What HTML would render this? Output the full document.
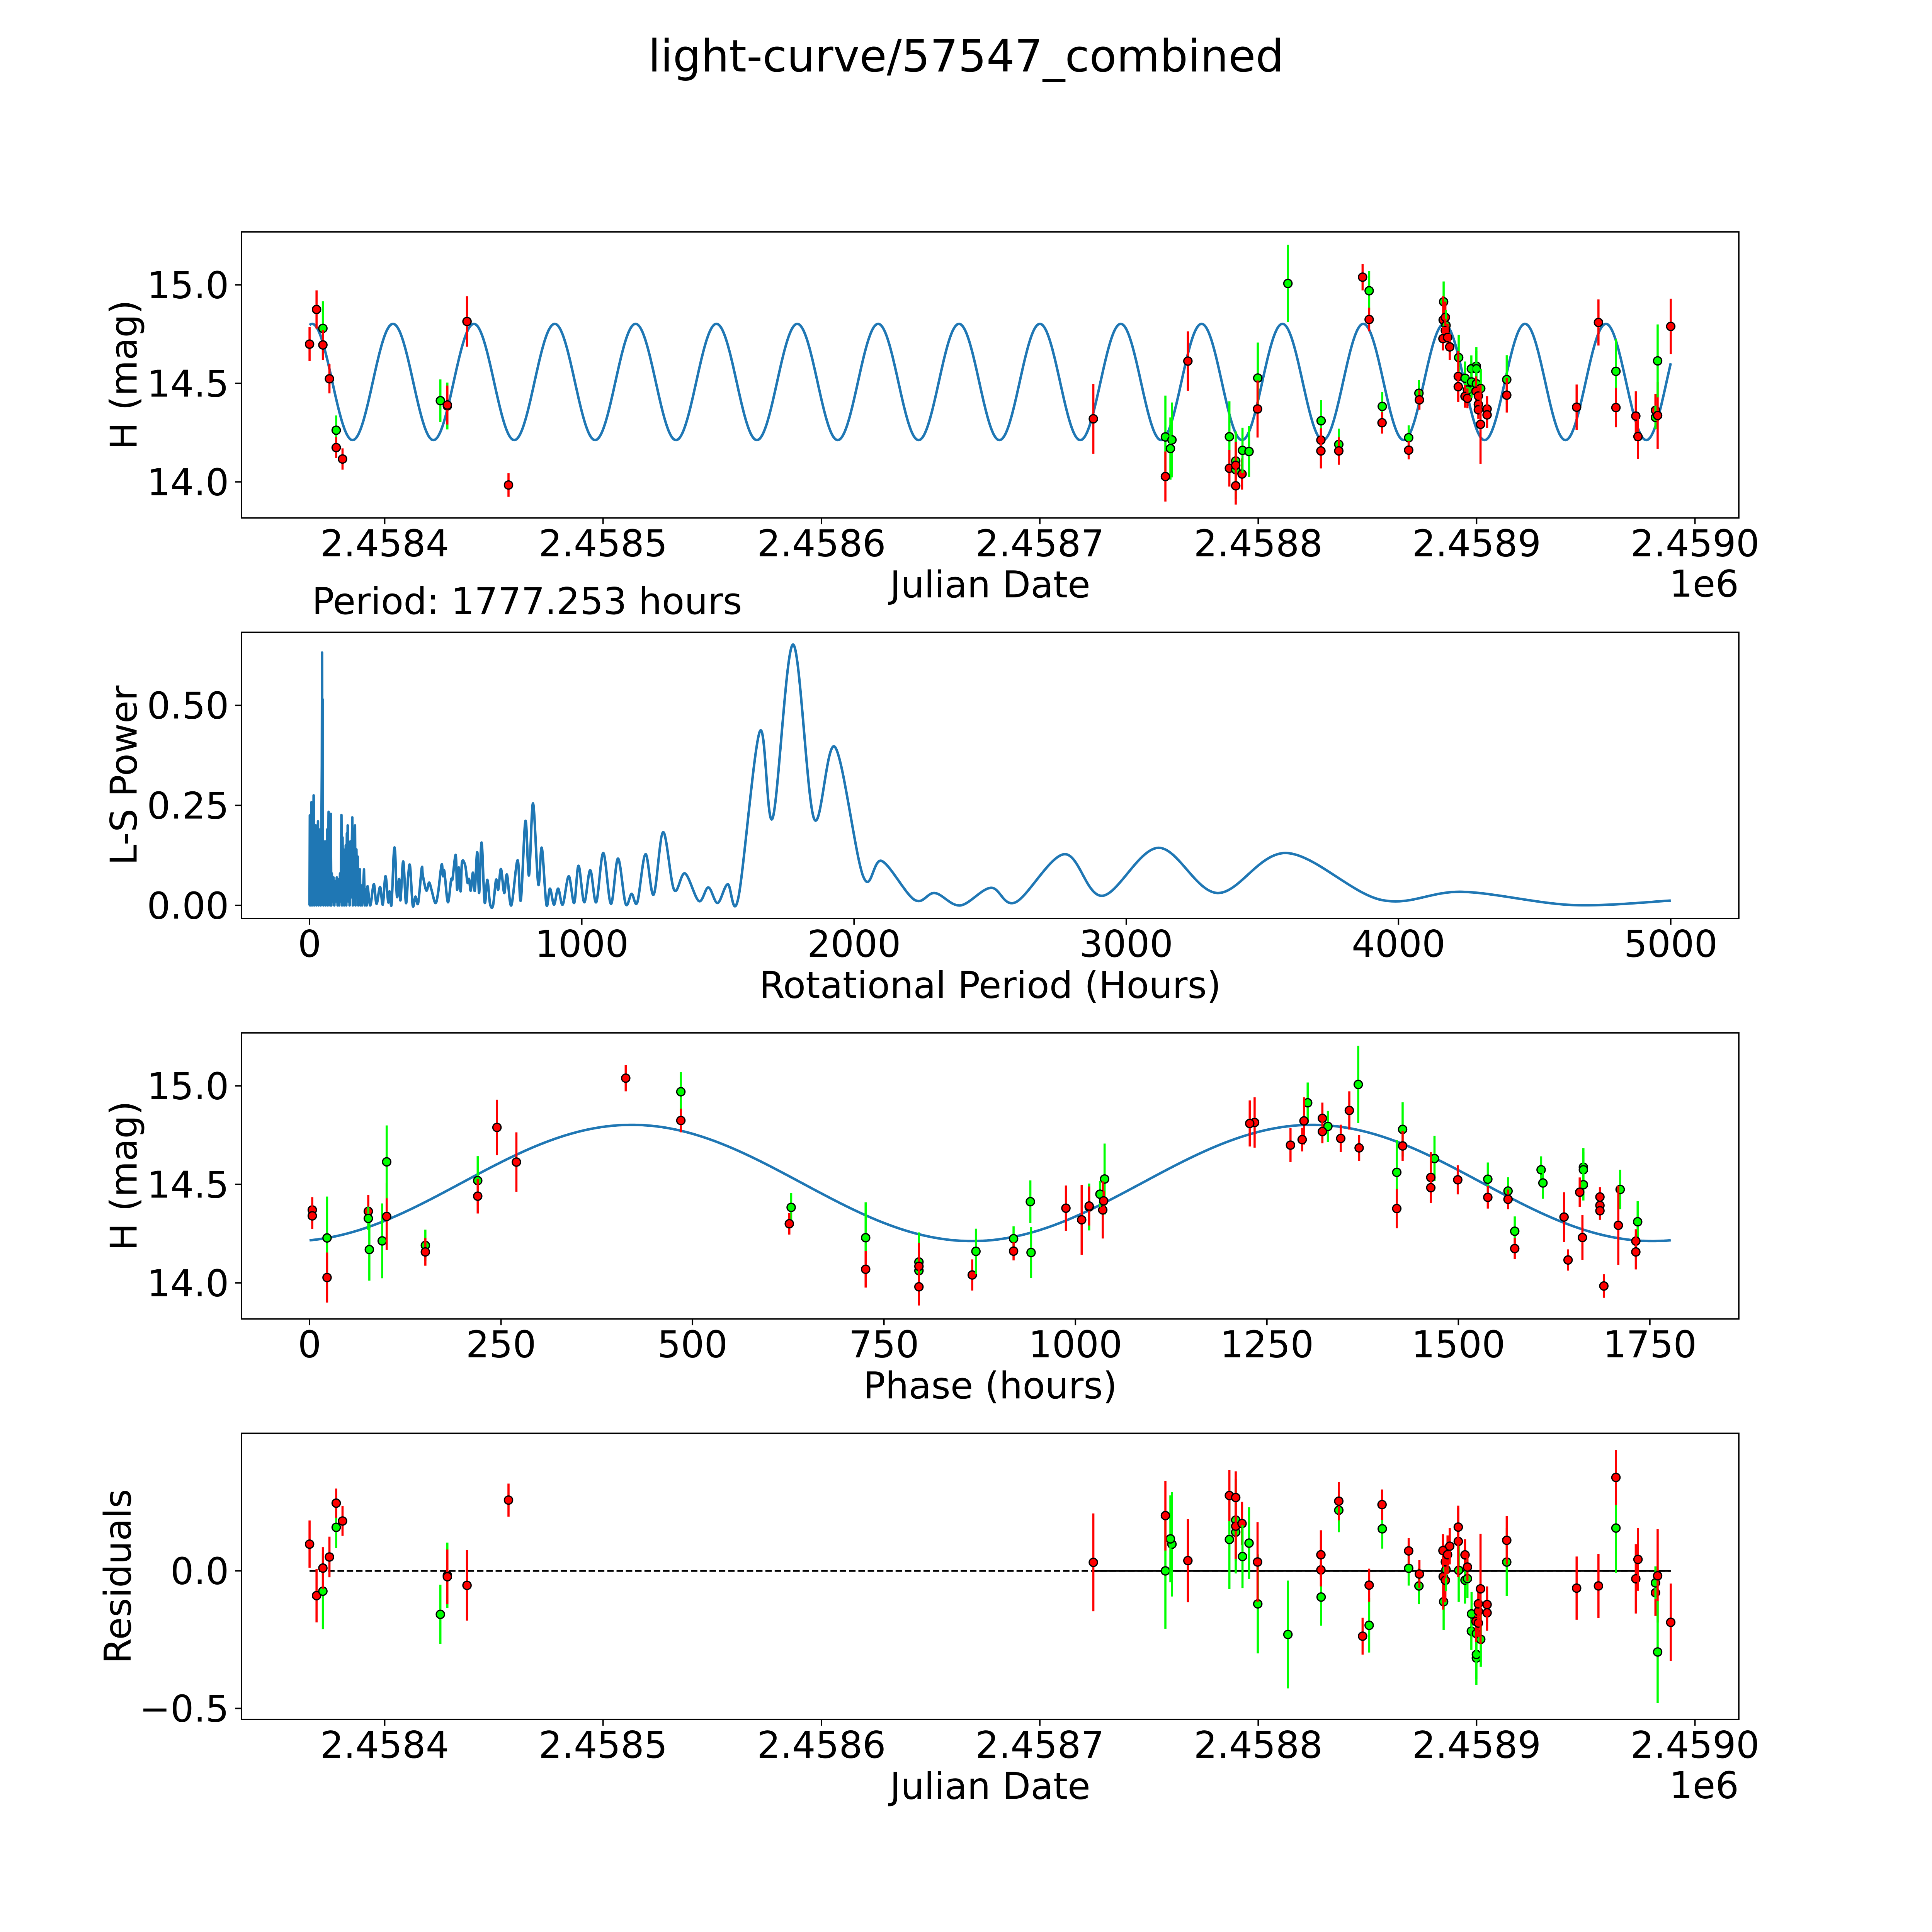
<!DOCTYPE html>
<html><head><meta charset="utf-8"><style>
html,body{margin:0;padding:0;background:#fff;overflow:hidden;width:100%;height:100%}
svg{display:block;width:100vw;height:100vh}
text{font-family:"DejaVu Sans","Liberation Sans",sans-serif;fill:#000}
</style></head><body>
<svg id="fig" xmlns="http://www.w3.org/2000/svg" viewBox="0 0 5400 5400" preserveAspectRatio="none">
<rect x="0" y="0" width="5400" height="5400" fill="#fff"/>
<text x="2700" y="200" font-size="124" text-anchor="middle">light-curve/57547_combined</text>
<text x="872" y="1716" font-size="103">Period: 1777.253 hours</text>
</svg>
<script>
// ---- observation data ----
const jd = [2458365.6,2458368.8,2458371.7,2458371.7,2458374.7,2458377.8,2458377.8,2458380.7,2458425.5,2458428.7,2458428.7,2458437.7,2458456.7,
2458724.5,2458757.5,2458760.5,2458759.8,2458757.5,2458767.8,2458786.8,2458786.8,2458789.7,2458789.7,2458789.7,2458789.7,2458792.6,2458792.8,2458795.8,2458799.8,2458799.7,2458813.6,
2458828.8,2458828.7,2458828.7,2458836.9,2458836.9,2458847.8,2458850.8,2458850.8,2458856.8,2458856.7,2458868.9,2458868.9,2458873.6,2458873.8,
2458884.9,2458884.7,2458885.7,2458886.0,2458885.7,2458884.6,2458886.7,2458887.7,2458891.8,2458891.6,2458891.6,2458894.7,2458895.8,2458894.7,2458895.8,
2458897.6,2458899.9,2458899.9,2458897.7,2458899.9,2458901.9,2458899.7,2458900.8,2458900.8,2458900.8,2458904.8,2458904.8,2458901.8,2458913.8,2458913.8,
2458945.8,2458955.8,2458963.8,2458963.8,2458972.9,2458973.9,2458981.9,2458981.9,2458982.9,2458982.9,2458988.9];
const mag = [14.699,14.875,14.779,14.695,14.523,14.262,14.174,14.116,14.412,14.385,14.390,14.814,13.984,
14.320,14.228,14.213,14.169,14.027,14.613,14.229,14.069,14.106,14.062,14.084,13.980,14.040,14.160,14.154,14.527,14.370,15.007,
14.310,14.212,14.157,14.190,14.157,15.039,14.970,14.824,14.383,14.300,14.224,14.161,14.450,14.416,
14.914,14.822,14.835,14.794,14.768,14.727,14.733,14.685,14.631,14.535,14.483,14.526,14.466,14.434,14.424,
14.574,14.587,14.574,14.507,14.498,14.474,14.460,14.436,14.393,14.366,14.370,14.340,14.292,14.519,14.440,
14.379,14.809,14.561,14.377,14.334,14.230,14.363,14.327,14.337,14.614,14.789];
const magErr = [0.086,0.097,0.138,0.076,0.074,0.075,0.053,0.054,0.108,0.119,0.099,0.128,0.060,
0.178,0.21,0.19,0.158,0.127,0.151,0.18,0.093,0.15,0.15,0.12,0.095,0.079,0.115,0.13,0.18,0.145,0.196,
0.104,0.06,0.089,0.08,0.07,0.067,0.099,0.06,0.072,0.055,0.063,0.047,0.066,0.05,
0.103,0.12,0.08,0.079,0.06,0.06,0.07,0.066,0.115,0.13,0.07,0.085,0.07,0.057,0.05,
0.068,0.097,0.09,0.08,0.08,0.1,0.075,0.05,0.05,0.046,0.065,0.066,0.2,0.124,0.088,
0.115,0.117,0.163,0.10,0.126,0.114,0.084,0.06,0.17,0.185,0.141];
const band = ['r','r','g','r','r','g','r','r','g','g','r','r','r',
'r','g','g','g','r','r','g','r','g','g','r','r','r','g','g','g','r','g',
'g','r','r','g','r','r','g','r','g','r','g','r','g','r',
'g','r','r','g','r','r','r','r','g','r','r','g','g','r','r',
'g','g','g','g','g','g','r','r','r','r','r','r','r','g','r',
'r','r','g','r','r','r','r','g','r','g','r'];
// fit: mean, amplitude, epoch of maximum
const fitParams = [14.507, 0.295, 2458959.2];
const periodHours = [1777.253];
const phaseEpoch = [2458830.6];
// ---- periodogram ----
const lsPeriod = [0,1,2,4,6,7,9,11,13,15,17,19,21,23,25,27,29,31,33,35,37,39,41,43,45,46,47,48,49,51,53,55,57,59,61,63,65,67,70,72,74,76,78,80,82,85,88,91,94,97,100,103,106,109,112,115,117,119,121,123,125,127,129,131,133,135,137,139,140,142,145,147,150,152,155,157,159,161,163,165,167,169,172,175,177,179,182,185,187,190,193,196,200,203,207,210,213,
223,236,246,259,269,279,289,294,301,309,314,321,329,334,344,354,362,369,379,389,399,412,416,429,439,448,462,472,485,490,495,508,520,525,537,542,548,555,560,572,580,586,592,600,607,616,623,632,643,653,663,674,685,693,703,715,725,741,764,776,793,806,821,840,853,870,883,898,913,930,952,972,988,1009,1031,1053,1079,1107,1133,1161,1183,1204,1234,1264,1299,1339,1379,1430,1465,1499,1536,1575,1654,1701,1776,1853,1930,2034,2102,2222,2297,2390,2503,2594,2773,2912,3118,3335,3589,3935,4234,4637,5000];
const lsPower = [0,0.225,0,0.21,0.02,0.258,0,0.19,0.01,0.275,0,0.17,0.02,0.2,0,0.18,0.03,0.21,0,0.15,0.02,0.19,0,0.1,0.35,0.632,0.3,0.515,0.05,0,0.12,0.02,0.16,0,0.11,0.02,0.19,0,0.234,0.02,0.05,0,0.229,0,0.08,0.01,0.07,0,0.06,0.01,0.07,0,0.065,0,0.08,0.01,0.226,0,0.17,0.02,0.14,0,0.12,0.03,0.15,0,0.18,0.02,0.2,0.01,0.12,0,0.16,0.02,0.14,0.22,0,0.19,0.01,0.17,0.2,0,0.14,0.02,0.122,0,0.06,0.09,0,0.05,0,0.03,0.09,0,0.04,0,0.048,
0,0.053,0.004,0.046,0.002,0.073,0.008,0.035,0.002,0.124,0.135,0.022,0.066,0.013,0.11,0.006,0.071,0.099,0,0.022,0.006,0.093,0.075,0.037,0.057,0.039,0.006,0.031,0.102,0.073,0.086,0.008,0.064,0.066,0.126,0.039,0.095,0.035,0.108,0.099,0.057,0.066,0.037,0.082,0.037,0.133,0.031,0.157,0.008,0.064,0.004,0,0.064,0.039,0.091,0.031,0.077,0,0.113,0.013,0.211,0.075,0.255,0.053,0.144,0.002,0.042,0.002,0.042,0.002,0.073,0.006,0.099,0.008,0.088,0.008,0.131,0.004,0.117,0.004,0.029,0.008,0.128,0.027,0.183,0.039,0.080,0.011,0.045,0.006,0.053,0.019,0.435,0.218,0.652,0.217,0.396,0.072,0.111,0.014,0.031,0,0.044,0.008,0.128,0.024,0.144,0.031,0.131,0.014,0.034,0.001,0.012];
// ---- axes tick labels ----
const jdTicks = [2458400,2458500,2458600,2458700,2458800,2458900,2459000];
const jdTickLabels = ['2.4584','2.4585','2.4586','2.4587','2.4588','2.4589','2.4590'];
const magTicks = [14.0,14.5,15.0];
const magTickLabels = ['14.0','14.5','15.0'];
const perTicks = [0,1000,2000,3000,4000,5000];
const powTicks = [0,0.25,0.5];
const powTickLabels = ['0.00','0.25','0.50'];
const phTicks = [0,250,500,750,1000,1250,1500,1750];
const resTicks = [-0.5,0.0];
const resTickLabels = ['\u22120.5','0.0'];

const NS='http://www.w3.org/2000/svg';
const svg=document.getElementById('fig');
function mk(tag,attrs,parent){const e=document.createElementNS(NS,tag);for(const k in attrs)e.setAttribute(k,attrs[k]);(parent||svg).appendChild(e);return e;}
const L=675,R=4860,H=799.6,tops=[648,1767.4,2886.8,4006.2];
const FS=103;
function lin(d0,d1,p0,p1){return v=>p0+(v-d0)*(p1-p0)/(d1-d0);}
const jdMin=Math.min(...jd),jdMax=Math.max(...jd);
const jmar=(jdMax-jdMin)*0.05;
const P=periodHours[0],Pd=P/24;
function model(t){return fitParams[0]+fitParams[1]*Math.cos(2*Math.PI*(t-fitParams[2])/(Pd/2));}
function phaseOf(t){let h=((t-phaseEpoch[0])*24)%P;if(h<0)h+=P;return h;}

function frame(i,name){const r=mk('rect',{x:L,y:tops[i],width:R-L,height:H,fill:'none',stroke:'#000','stroke-width':4});

}
function xticks(i,vals,labels,sx,grp){const yb=tops[i]+H;vals.forEach((v,k)=>{const x=sx(v);
const t=mk('line',{x1:x,x2:x,y1:yb,y2:yb+17.5,stroke:'#000','stroke-width':4});


const tx=mk('text',{x:x,y:yb+107,'font-size':FS,'text-anchor':'middle'});tx.textContent=labels[k];

});}
function yticks(i,vals,labels,sy,grp){vals.forEach((v,k)=>{const y=sy(v);
const t=mk('line',{x1:L-17.5,x2:L,y1:y,y2:y,stroke:'#000','stroke-width':4});


const tx=mk('text',{x:L-35,y:y+37,'font-size':FS,'text-anchor':'end'});tx.textContent=labels[k];

});}
function xlabel(i,s,name){const tx=mk('text',{x:(L+R)/2,y:tops[i]+H+222,'font-size':FS,'text-anchor':'middle'});tx.textContent=s;

}
function ylabel(i,s,xc,name){const yc=tops[i]+H/2;const tx=mk('text',{x:xc+37,y:yc,'font-size':FS,'text-anchor':'middle',transform:'rotate(-90 '+(xc+37)+' '+yc+')'});tx.textContent=s;

}
function clip(i){const id='clip'+i;const cp=mk('clipPath',{id:id});mk('rect',{x:L,y:tops[i],width:R-L,height:H},cp);return 'url(#'+id+')';}
function points(g,xs,ys,es,sx,sy,name){xs.forEach((xv,k)=>{const c=band[k]==='g'?'#00ff00':'#ff0000';const x=sx(xv);
const b=mk('line',{x1:x,x2:x,y1:sy(ys[k]-es[k]),y2:sy(ys[k]+es[k]),stroke:c,'stroke-width':6},g);


const m=mk('circle',{cx:x,cy:sy(ys[k]),r:11.5,fill:c,stroke:'#000','stroke-width':3.5},g);

});}

// ===== Panel 1 =====
{const sx=lin(jdMin-jmar,jdMax+jmar,L,R),sy=lin(13.817,15.269,tops[0]+H,tops[0]);
const g=mk('g',{'clip-path':clip(0)});


let d='';for(let k=0;k<=1500;k++){const t=jdMin+(jdMax-jdMin)*k/1500;d+=(k?'L':'M')+sx(t).toFixed(1)+' '+sy(model(t)).toFixed(1);}
const ln=mk('path',{d:d,fill:'none',stroke:'#1f77b4','stroke-width':7},g);


points(g,jd,mag,magErr,sx,sy,'magnitude');
frame(0,'lightcurve-axes');
xticks(0,jdTicks,jdTickLabels,sx,'jd-x');
yticks(0,magTicks,magTickLabels,sy,'mag-y');
xlabel(0,'Julian Date','lightcurve-x-axis-title');
ylabel(0,'H (mag)',345,'lightcurve-y-axis-title');
const o=mk('text',{x:R,y:tops[0]+H+220,'font-size':FS,'text-anchor':'end'});o.textContent='1e6';

}

// ===== Panel 2 =====
{const sx=lin(-250,5250,L,R),sy=lin(-0.0325,0.6825,tops[1]+H,tops[1]);
const px=lsPeriod.map(sx),py=lsPower.map(sy);
let d='M'+px[0].toFixed(1)+' '+py[0].toFixed(1);
for(let k=0;k<px.length-1;k++){
  if(lsPeriod[k+1]<=213){d+='L'+px[k+1].toFixed(1)+' '+py[k+1].toFixed(1);continue;}
  const k0=Math.max(k-1,0),k3=Math.min(k+2,px.length-1);
  const c1x=px[k]+(px[k+1]-px[k0])/6,c1y=py[k]+(py[k+1]-py[k0])/6;
  const c2x=px[k+1]-(px[k3]-px[k])/6,c2y=py[k+1]-(py[k3]-py[k])/6;
  d+='C'+c1x.toFixed(1)+' '+c1y.toFixed(1)+' '+c2x.toFixed(1)+' '+c2y.toFixed(1)+' '+px[k+1].toFixed(1)+' '+py[k+1].toFixed(1);
}
const ln=mk('path',{d:d,fill:'none',stroke:'#1f77b4','stroke-width':7,'stroke-linejoin':'round'});


frame(1,'periodogram-axes');
xticks(1,perTicks,perTicks.map(String),sx,'period-x');
yticks(1,powTicks,powTickLabels,sy,'power-y');
xlabel(1,'Rotational Period (Hours)','periodogram-x-axis-title');
ylabel(1,'L-S Power',345,'periodogram-y-axis-title');}

// ===== Panel 3 =====
{const sx=lin(-0.05*P,1.05*P,L,R),sy=lin(13.817,15.269,tops[2]+H,tops[2]);
const g=mk('g',{'clip-path':clip(2)});


let d='';for(let k=0;k<=800;k++){const h=P*k/800;const t=phaseEpoch[0]+h/24;d+=(k?'L':'M')+sx(h).toFixed(1)+' '+sy(model(t)).toFixed(1);}
const ln=mk('path',{d:d,fill:'none',stroke:'#1f77b4','stroke-width':7},g);


points(g,jd.map(phaseOf),mag,magErr,sx,sy,'phase');
frame(2,'phase-axes');
xticks(2,phTicks,phTicks.map(String),sx,'phase-x');
yticks(2,magTicks,magTickLabels,sy,'phase-mag-y');
xlabel(2,'Phase (hours)','phase-x-axis-title');
ylabel(2,'H (mag)',345,'phase-y-axis-title');}

// ===== Panel 4 =====
{const sx=lin(jdMin-jmar,jdMax+jmar,L,R),sy=lin(-0.54,0.5,tops[3]+H,tops[3]);
const g=mk('g',{'clip-path':clip(3)});


const z1=mk('line',{x1:sx(jdMin),x2:sx(jdMax),y1:sy(0),y2:sy(0),stroke:'#000','stroke-width':5,'stroke-dasharray':'18 8'},g);


const z2=mk('line',{x1:sx(jd[13]),x2:sx(jdMax),y1:sy(0),y2:sy(0),stroke:'#000','stroke-width':5},g);


const res=jd.map((t,k)=>model(t)-mag[k]);
points(g,jd,res,magErr,sx,sy,'residual');
frame(3,'residual-axes');
xticks(3,jdTicks,jdTickLabels,sx,'res-jd-x');
yticks(3,resTicks,resTickLabels,sy,'residual-y');
xlabel(3,'Julian Date','residual-x-axis-title');
ylabel(3,'Residuals',328,'residual-y-axis-title');
const o=mk('text',{x:R,y:tops[3]+H+220,'font-size':FS,'text-anchor':'end'});o.textContent='1e6';

}
</script>
</body></html>
